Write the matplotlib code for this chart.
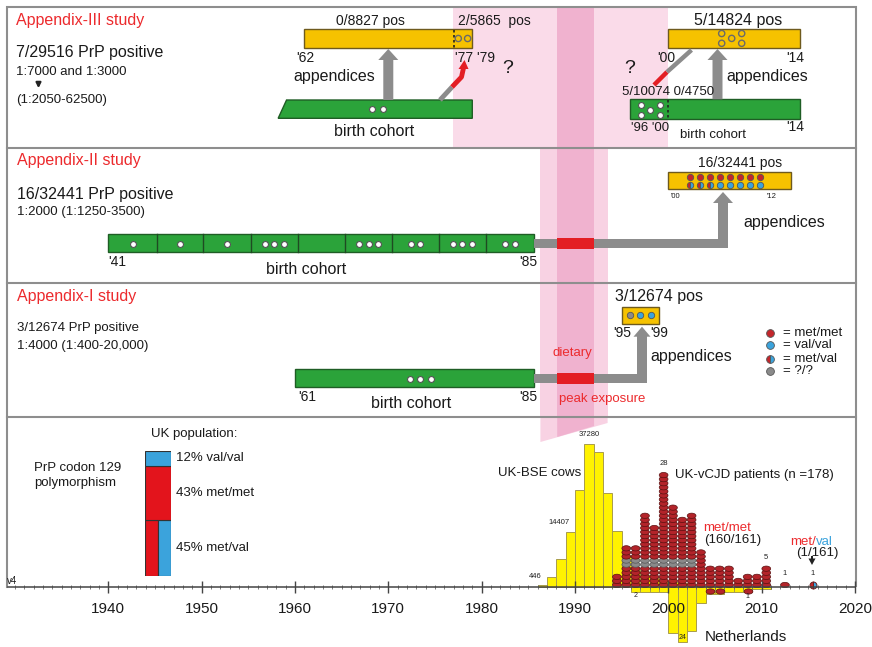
import numpy as np
import matplotlib
matplotlib.use('Agg')
import matplotlib.pyplot as plt
from matplotlib.patches import Rectangle, Polygon
from matplotlib.path import Path

plt.rcParams['font.family'] = ['Liberation Sans', 'DejaVu Sans']

# ---- data ----
# UK BSE cows per year (bars above the time axis)
bse_years = list(range(1987, 2012))
bse_cases = [446, 2514, 7228, 14407, 25359, 37280, 35090, 24438, 14562, 8149,
             4393, 3235, 2301, 1443, 1202, 1144, 611, 343, 225, 114,
             67, 37, 12, 11, 7]
bse_labels = {1987: '446', 1990: '14407', 1992: '37280'}

# Netherlands BSE cows per year (bars below the axis)
nl_years = list(range(1997, 2012))
nl_cases = [2, 2, 2, 2, 20, 24, 19, 7, 3, 3, 2, 2, 2, 1, 1]
nl_labels = {1997: '2', 2002: '24'}

# UK vCJD patients per year, one dot each
vcjd_years = list(range(1995, 2017))
vcjd_deaths = [3, 10, 10, 18, 15, 28, 20, 17, 18, 9, 5, 5, 5, 2, 3, 3, 5, 0, 1, 0, 0, 1]
vcjd_labels = {2000: '28', 2011: '5', 2013: '1', 2016: '1'}
unknown_years = list(range(1996, 2004))   # columns with ?/? band
unknown_rows = [5, 6]
metval_year = 2016
nl_vcjd_years = [2005, 2006, 2009]

# UK population codon 129 genotypes (bottom to top)
pop_genotypes = ['met/val', 'met/met', 'val/val']
pop_percent = [45, 43, 12]

# appendix studies (spans in years)
exposure = (1988.1, 1992.05)
appx3_cohort_a = (1958.2, 1979.0)
appx3_samples_a = (1961.0, 1979.0)
appx3_pos_a = [1977.5, 1978.5]
appx3_cohort_b = (1995.9, 2014.1)
appx3_samples_b = (2000.0, 2014.1)
appx2_edges = [1940, 1945.2, 1950.2, 1955.3, 1960.3, 1965.4, 1970.4, 1975.4, 1980.5, 1985.6]
appx2_pos = [1, 1, 1, 3, 0, 3, 2, 3, 2]
appx2_samples = (2000.0, 2013.1)
appx2_top = ['mm'] * 8
appx2_bottom = ['mv', 'mv', 'mv', 'vv', 'vv', 'vv', 'vv', 'vv']
appx1_cohort = (1960.0, 1985.6)
appx1_samples = (1995.0, 1999.0)
appx1_geno = ['uk', 'vv', 'vv']

# ---- styling ----
W, H = 872, 647
PX_YR = 9.333
X1940 = 108.3
MM = '#c3262b'
VV = '#3ba3dc'
UNK = '#8a8a8a'
TXT_RED = '#ec2a2d'
GRAY = '#8c8c8c'
FRAME = '#8e8e8e'
GREEN = '#2ba33a'
YEL_BOX = '#f6c200'
YEL_BAR = '#fff200'
GENO = {'mm': MM, 'vv': VV, 'uk': UNK}


def yx(year):
    return X1940 + (year - 1940) * PX_YR


YR0 = 1940 - X1940 / PX_YR
YR1 = YR0 + W / PX_YR

fig = plt.figure(figsize=(W / 100, H / 100), dpi=100)
ax = fig.add_axes([0, 0, 1, 1])
ax.set_xlim(0, W)
ax.set_ylim(H, 0)
ax.axis('off')


def txt(x, y, s, size, color='#1a1a1a', ha='left', **kw):
    ax.text(x, y, s, fontsize=size, color=color, ha=ha, va='center', zorder=8, **kw)


def rect(x0, x1, y0, y1, fc, ec='none', lw=1.0, z=3):
    ax.add_patch(Rectangle((x0, y0), x1 - x0, y1 - y0, fc=fc, ec=ec, lw=lw, zorder=z))


def up_arrow(x, y0, y1, shaft=10, head_w=20, head_l=11, color=GRAY):
    pts = [(x - shaft / 2, y0), (x - shaft / 2, y1 + head_l), (x - head_w / 2, y1 + head_l),
           (x, y1), (x + head_w / 2, y1 + head_l), (x + shaft / 2, y1 + head_l),
           (x + shaft / 2, y0)]
    ax.add_patch(Polygon(pts, closed=True, fc=color, ec='none', zorder=4))


def dots(xs, ys, fc, ec='#666666', s=18, lw=0.8):
    ax.scatter(xs, ys, s=s, c=fc, edgecolors=ec, linewidths=lw, zorder=6)


def geno_dot(x, y, g, ms=4.6):
    if g == 'mv':
        ax.plot([x], [y], marker='o', ms=ms, fillstyle='left', markerfacecolor=MM,
                markerfacecoloralt=VV, markeredgecolor='#555555', mew=0.6, zorder=6)
    else:
        ax.plot([x], [y], marker='o', ms=ms, color=GENO[g],
                markeredgecolor='#555555', mew=0.6, zorder=6)


# ---- pink exposure bands ----
rect(yx(1976.9), yx(2000.0), 7, 148, '#fadbe9', z=0)
rect(yx(1986.3), yx(1993.5), 148, 417, '#f8d2e3', z=0)
rect(yx(exposure[0]), yx(exposure[1]), 7, 417, '#f0b2cf', z=0)
ax.add_patch(Polygon([(yx(1986.3), 417), (yx(1993.5), 417), (yx(1993.5), 423), (yx(1986.3), 442)],
                     fc='#f8d2e3', ec='none', zorder=0))
ax.add_patch(Polygon([(yx(exposure[0]), 417), (yx(exposure[1]), 417), (yx(exposure[1]), 426),
                      (yx(exposure[0]), 437)], fc='#f0b2cf', ec='none', zorder=0))

# ---- frames ----
ax.add_patch(Rectangle((7, 7), 849, 410, fill=False, ec=FRAME, lw=1.5, zorder=5))
ax.plot([7, 856], [148, 148], color=FRAME, lw=1.5, zorder=5)
ax.plot([7, 856], [283, 283], color=FRAME, lw=1.5, zorder=5)
ax.plot([7, 7], [417, 587], color=FRAME, lw=1.5, zorder=5)
ax.plot([856, 856], [417, 586], color=FRAME, lw=1.5, zorder=5)

# ---- Appendix-III ----
txt(16, 21, 'Appendix-III study', 11.5, TXT_RED)
txt(16, 53, '7/29516 PrP positive', 11.5)
txt(16, 72, '1:7000 and 1:3000', 9.5)
ax.annotate('', xy=(38.5, 91), xytext=(38.5, 80),
            arrowprops=dict(arrowstyle='-|>', color='#222222', lw=1.6, mutation_scale=7))
txt(16, 99.5, '(1:2050-62500)', 9.5)

rect(yx(appx3_samples_a[0]), yx(appx3_samples_a[1]), 29.3, 48.3, YEL_BOX, '#6e5a1e')
ax.plot([yx(1977), yx(1977)], [29.5, 48], color='#222222', lw=1.2, ls=(0, (1.5, 1.5)), zorder=5)
dots([yx(v) for v in appx3_pos_a], [38.5] * 2, 'none', '#6a6a6a', s=20, lw=1)
ax.add_patch(Polygon([(yx(appx3_cohort_a[0]), 118.3), (yx(appx3_cohort_a[0] + 0.9), 100),
                      (yx(appx3_cohort_a[1]), 100), (yx(appx3_cohort_a[1]), 118.3)],
                     fc=GREEN, ec='#1f5d25', lw=1, zorder=3))
dots([371.7, 382.7], [109.3, 109.3], 'white', '#555555', s=18)
up_arrow(yx(1970), 100, 49)
ax.plot([440, 452], [100, 87], color=GRAY, lw=3.5, solid_capstyle='butt', zorder=4)
ax.plot([452, 461.5, 463.5], [87, 77, 68], color='#e31e24', lw=3.5, solid_capstyle='butt', zorder=4)
ax.add_patch(Polygon([(458.5, 69), (468.5, 69), (464.5, 60)], fc='#e31e24', ec='none', zorder=4))
txt(370.8, 20.7, '0/8827 pos', 10, ha='center')
txt(458, 20.7, '2/5865  pos', 10)
txt(305, 58.3, "'62", 10, ha='center')
txt(455, 58.3, "'77 '79", 10)
txt(293.3, 76.7, 'appendices', 11.5)
txt(374, 131.7, 'birth cohort', 11.5, ha='center')
txt(508, 68.3, '?', 14, ha='center')
txt(630, 68.3, '?', 14, ha='center')

rect(yx(appx3_samples_b[0]), yx(appx3_samples_b[1]), 29.3, 48.3, YEL_BOX, '#6e5a1e')
dots([721.7, 721.7, 731.7, 741.7, 741.7], [33.5, 43.3, 38.4, 33.5, 43.3], 'none', '#6a6a6a', s=20, lw=1)
rect(yx(appx3_cohort_b[0]), yx(appx3_cohort_b[1]), 99.3, 119.3, GREEN, '#1f5d25')
ax.plot([yx(2000), yx(2000)], [99.5, 119], color='#222222', lw=1.2, ls=(0, (1.5, 1.5)), zorder=5)
dots([640.7, 640.7, 650, 660, 660], [104.5, 114.5, 109.5, 104.5, 114.5], 'white', '#555555', s=18)
up_arrow(717.5, 99.3, 49)
ax.plot([654, 667], [85, 72], color='#e31e24', lw=3.2, solid_capstyle='butt', zorder=4)
ax.plot([667, 691.5], [72, 50], color=GRAY, lw=3.2, solid_capstyle='butt', zorder=4)
txt(738.3, 20.7, '5/14824 pos', 11.5, ha='center')
txt(666.7, 58.3, "'00", 10, ha='center')
txt(795, 58.3, "'14", 10, ha='center')
txt(726, 76.7, 'appendices', 11.5)
txt(622, 91.7, '5/10074 0/4750', 9.5)
txt(631, 128, "'96 '00", 9.5)
txt(680, 134.5, 'birth cohort', 9.5)
txt(795, 127, "'14", 10, ha='center')

# ---- Appendix-II ----
txt(17, 160, 'Appendix-II study', 11.5, TXT_RED)
txt(17, 195, '16/32441 PrP positive', 11.5)
txt(17, 211.7, '1:2000 (1:1250-3500)', 9.5)
rect(yx(appx2_edges[0]), yx(appx2_edges[-1]), 234.3, 252.3, GREEN, '#1f5d25')
for e in appx2_edges[1:-1]:
    ax.plot([yx(e), yx(e)], [234.3, 252.3], color='#1f4a22', lw=1, zorder=4)
for a, b, n in zip(appx2_edges[:-1], appx2_edges[1:], appx2_pos):
    mid = (yx(a) + yx(b)) / 2
    xs = [mid + (k - (n - 1) / 2) * 9.5 for k in range(n)]
    dots(xs, [243.5] * n, 'white', '#555555', s=18)
rect(yx(appx2_edges[-1]), 728, 239.3, 247.7, GRAY, z=3)
rect(yx(exposure[0]), yx(exposure[1]), 238.3, 248.7, '#e31e24', z=4)
up_arrow(723, 247.7, 192)
rect(yx(appx2_samples[0]), yx(appx2_samples[1]), 171.7, 188.7, YEL_BOX, '#6e5a1e')
for k, (g1, g2) in enumerate(zip(appx2_top, appx2_bottom)):
    geno_dot(690 + 10 * k, 177, g1)
    geno_dot(690 + 10 * k, 185.3, g2)
txt(740, 163.5, '16/32441 pos', 10, ha='center')
txt(675, 197, "'00", 5.5, ha='center')
txt(772, 197, "'12", 5.5, ha='center')
txt(743, 222.3, 'appendices', 11.5)
txt(108, 262, "'41", 10)
txt(528, 262, "'85", 10, ha='center')
txt(306, 269, 'birth cohort', 11.5, ha='center')

# ---- Appendix-I ----
txt(17, 296, 'Appendix-I study', 11.5, TXT_RED)
txt(17, 328.3, '3/12674 PrP positive', 9.5)
txt(17, 345.7, '1:4000 (1:400-20,000)', 9.5)
rect(yx(appx1_cohort[0]), yx(appx1_cohort[1]), 369.3, 387.3, GREEN, '#1f5d25')
dots([410, 420.2, 430.9], [379.3] * 3, 'white', '#555555', s=18)
rect(yx(appx1_cohort[1]), 646.7, 373.5, 382.5, GRAY, z=3)
rect(yx(exposure[0]), yx(exposure[1]), 372.5, 383.5, '#e31e24', z=4)
up_arrow(642, 382.5, 326.7, head_w=17, head_l=10)
rect(yx(appx1_samples[0]), yx(appx1_samples[1]), 306.7, 324, YEL_BOX, '#6e5a1e')
for k, g in enumerate(appx1_geno):
    geno_dot(630 + 10.3 * k, 315, g)
txt(659, 296, '3/12674 pos', 11.5, ha='center')
txt(622.7, 332.7, "'95", 10, ha='center')
txt(659.3, 332.7, "'99", 10, ha='center')
txt(650, 356.7, 'appendices', 11.5)
txt(572.7, 353.3, 'dietary', 9.5, TXT_RED, ha='center')
txt(559, 399, 'peak exposure', 9.5, TXT_RED)
txt(298, 397.3, "'61", 10)
txt(528, 397.3, "'85", 10, ha='center')
txt(411.5, 403.3, 'birth cohort', 11.5, ha='center')

# legend
for y, g, lab in zip([333, 345, 359, 371], ['mm', 'vv', 'mv', 'uk'],
                     ['= met/met', '= val/val', '= met/val', '= ?/?']):
    geno_dot(770, y, g, ms=5.6)
    txt(782.5, y, lab, 9.5)

# ---- bottom panel: population bar ----
txt(150.7, 434, 'UK population:', 9.5)
txt(34, 475.5, 'PrP codon 129\npolymorphism', 9.5, linespacing=1.25)
bx = fig.add_axes([145 / W, 71 / H, 26 / W, 125.3 / H])
bx.set_xlim(0, 1)
bx.set_ylim(0, 100)
bx.axis('off')
bottom = 0
for g, p in zip(pop_genotypes, pop_percent):
    if g == 'met/val':
        bx.bar(0, p, bottom=bottom, width=0.51, align='edge', color='#e3141c', ec='#333333', lw=0.8)
        bx.bar(0.51, p, bottom=bottom, width=0.49, align='edge', color=VV, ec='#333333', lw=0.8)
    else:
        bx.bar(0, p, bottom=bottom, width=1, align='edge',
               color='#e3141c' if g == 'met/met' else VV, ec='#333333', lw=0.8)
    bx.text(1.2, bottom + p / 2, f'{p}% {g}', transform=bx.transData,
            fontsize=9.5, va='center', ha='left', color='#1a1a1a', clip_on=False)
    bottom += p

# ---- bottom panel: histogram on the shared time axis ----
BASE = 587          # pixel row of the time axis
below = H - BASE


def hist_axes(px_per_unit):
    a = fig.add_axes([0, 0, 1, 1])
    a.set_xlim(YR0, YR1)
    a.set_ylim(-below / px_per_unit, BASE / px_per_unit)
    a.patch.set_visible(False)
    for sp in a.spines.values():
        sp.set_visible(False)
    a.set_yticks([])
    a.set_xticks([])
    return a


hb = hist_axes(143 / 37280)
hb.bar([y - 1 for y in bse_years], bse_cases, width=1, align='edge',
       color=YEL_BAR, ec='#a89c4c', lw=0.7, zorder=2)
for yr, lab in bse_labels.items():
    dx = {'446': -5, '14407': -8}.get(lab, 0)
    hb.annotate(lab, (yr - 0.5, bse_cases[bse_years.index(yr)]), xytext=(dx, 4),
                textcoords='offset points', ha='center', va='bottom', fontsize=5.5, color='#222222')

hn = hist_axes(55 / 24)
hn.bar([y - 1 for y in nl_years], [-c for c in nl_cases], width=1, align='edge',
       color=YEL_BAR, ec='#a89c4c', lw=0.7, zorder=2)
for yr, lab in nl_labels.items():
    big = nl_cases[nl_years.index(yr)] > 10
    # the tall bar reaches the bottom edge, so its label sits at its lower end
    hn.annotate(lab, (yr - 0.5, -nl_cases[nl_years.index(yr)]), xytext=(0, 0.5 if big else -0.5),
                textcoords='offset points', ha='center', va='bottom' if big else 'top',
                fontsize=5, color='#222222')

hv = hist_axes(4.07)
ell = Path(np.column_stack([np.cos(np.linspace(0, 2 * np.pi, 40)),
                            0.6 * np.sin(np.linspace(0, 2 * np.pi, 40))]))
dx_, dy_, fc_, ec_ = [], [], [], []
for yr, n in zip(vcjd_years, vcjd_deaths):
    if yr == metval_year:
        continue
    for i in range(n):
        dx_.append(yr - 0.5)
        dy_.append(i + 0.5)
        unk = yr in unknown_years and i in unknown_rows
        fc_.append(UNK if unk else '#b3242a')
        ec_.append('#555555' if unk else '#5a1010')
hv.scatter(dx_, dy_, s=40, marker=ell, c=fc_, edgecolors=ec_, linewidths=0.5, zorder=3)
hv.scatter([y - 0.5 for y in nl_vcjd_years], [-1] * len(nl_vcjd_years), s=40, marker=ell,
           c='#b3242a', edgecolors='#5a1010', linewidths=0.5, zorder=3)
hv.plot([metval_year - 0.5], [0.5], marker='o', ms=5, fillstyle='left', markerfacecolor=MM,
        markerfacecoloralt=VV, markeredgecolor='#6a2020', mew=0.7, zorder=3)
for yr, lab in vcjd_labels.items():
    hv.annotate(lab, (yr - 0.5, vcjd_deaths[vcjd_years.index(yr)]), xytext=(0, 4),
                textcoords='offset points', ha='center', va='bottom', fontsize=5.5, color='#222222')
hv.annotate('1', (2008.5, -1.5), xytext=(0, 0), textcoords='offset points',
            ha='center', va='top', fontsize=5, color='#222222')

# time axis, drawn last so its labels sit above the bars
ht = hist_axes(1.0)
ht.spines['bottom'].set_visible(True)
ht.spines['bottom'].set_position(('data', 0))
ht.spines['bottom'].set_bounds(YR0 + 8 / PX_YR, YR0 + 855 / PX_YR)
ht.spines['bottom'].set_color('#444444')
ht.spines['bottom'].set_linewidth(1.1)
ht.set_xticks(list(range(1940, 2021, 10)))
ht.set_xticks(list(range(1930, 2021)), minor=True)
ht.tick_params(axis='x', which='major', direction='inout', length=8, width=1,
               color='#444444', labelsize=11, pad=6.5, labelcolor='#1a1a1a')
ht.tick_params(axis='x', which='minor', direction='inout', length=3, width=0.6, color='#666666')

# bottom panel texts
txt(7, 580.7, 'v4', 7)
txt(540, 473.3, 'UK-BSE cows', 9.5, ha='center')
txt(675, 475, 'UK-vCJD patients (n =178)', 9.5)
txt(703.5, 527.7, 'met/met', 9.5, TXT_RED)
txt(704, 539.5, '(160/161)', 9.5)
txt(816, 541.7, 'met/', 9.5, TXT_RED, ha='right')
txt(816, 541.7, 'val', 9.5, VV)
txt(796, 553.3, '(1/161)', 9.5)
ax.add_patch(Polygon([(808.5, 558.5), (811, 558.5), (811, 556), (813, 556), (813, 558.5),
                      (815.5, 558.5), (812, 565)], fc='#222222', ec='none', zorder=8))
txt(705, 636.7, 'Netherlands', 11)

fig.savefig('out.png', dpi=100)
